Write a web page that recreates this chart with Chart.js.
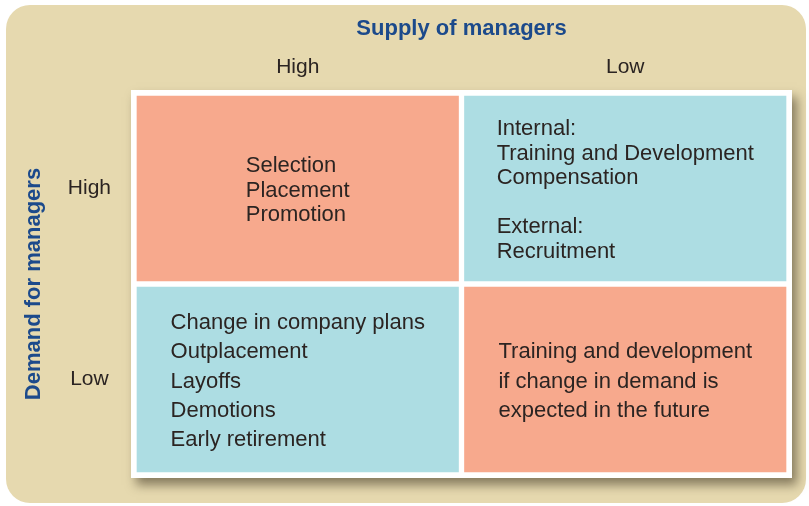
<!DOCTYPE html>
<html>
<head>
<meta charset="utf-8">
<title>Supply and demand of managers</title>
<script src="https://cdn.jsdelivr.net/npm/chart.js@4/dist/chart.umd.min.js"></script>
<style>
    html, body { margin: 0; padding: 0; background: #ffffff; }
    #wrap { width: 809px; height: 506px; position: relative; }
</style>
</head>
<body>
<div id="wrap"><canvas id="matrixChart"></canvas></div>
<script>
// Data
const supplyLevels = ['High', 'Low'];   // columns (top axis)
const demandLevels = ['High', 'Low'];   // rows (left axis)

const highDemandTexts = [
    ['Selection', 'Placement', 'Promotion'],
    ['Internal:', 'Training and Development', 'Compensation', '', 'External:', 'Recruitment']
];
const lowDemandTexts = [
    ['Change in company plans', 'Outplacement', 'Layoffs', 'Demotions', 'Early retirement'],
    ['Training and development', 'if change in demand is', 'expected in the future']
];

// Couleurs
const SALMON = '#F7A98D';
const AQUA = '#ADDDE3';
const BEIGE = '#E6D9AF';
const NAVY = '#1C4A8B';
const INK = '#2B2422';

const nRows = demandLevels.length;
const rowTexts = [highDemandTexts, lowDemandTexts];
const rowColors = [[SALMON, AQUA], [AQUA, SALMON]];
const rowLineHeights = [24.5, 29.3];

// each row is one floating bar dataset spanning its band on the y scale
const datasets = demandLevels.map((level, i) => ({
    label: level + ' demand',
    data: supplyLevels.map(() => [nRows - 1 - i, nRows - i]),
    backgroundColor: rowColors[i],
    borderColor: '#ffffff',
    borderWidth: 3,
    borderSkipped: false,
    grouped: false,
    barPercentage: 1,
    categoryPercentage: 1
}));

// Background card, white frame with shadow
const backdropPlugin = {
    id: 'backdrop',
    beforeDraw(chart) {
        const ctx = chart.ctx;
        const area = chart.chartArea;
        ctx.save();
        ctx.fillStyle = '#ffffff';
        ctx.fillRect(0, 0, chart.width, chart.height);

        ctx.fillStyle = BEIGE;
        ctx.beginPath();
        ctx.roundRect(6, 5, 800, 498, 24);
        ctx.fill();

        ctx.shadowColor = 'rgba(70, 60, 40, 0.6)';
        ctx.shadowBlur = 10;
        ctx.shadowOffsetX = 5;
        ctx.shadowOffsetY = 7;
        ctx.fillStyle = '#ffffff';
        ctx.fillRect(area.left - 3, area.top - 3, area.right - area.left + 6, area.bottom - area.top + 6);
        ctx.restore();
    }
};

// Cell texts, block centered in each cell, lines left aligned
const cellTextPlugin = {
    id: 'cellText',
    afterDatasetsDraw(chart) {
        const ctx = chart.ctx;
        ctx.save();
        ctx.font = '22px "Liberation Sans", Arial, sans-serif';
        ctx.fillStyle = INK;
        ctx.textAlign = 'left';
        ctx.textBaseline = 'middle';
        chart.data.datasets.forEach((ds, i) => {
            const meta = chart.getDatasetMeta(i);
            meta.data.forEach((bar, j) => {
                const props = bar.getProps(['x', 'y', 'base']);
                const lines = rowTexts[i][j];
                const lh = rowLineHeights[i];
                const blockW = Math.max(...lines.map(l => ctx.measureText(l).width));
                const left = props.x - blockW / 2;
                const cy = (props.y + props.base) / 2 + 2;
                const top = cy - (lines.length - 1) * lh / 2;
                lines.forEach((line, k) => {
                    ctx.fillText(line, left, top + k * lh);
                });
            });
        });
        ctx.restore();
    }
};

Chart.defaults.font.family = '"Liberation Sans", Arial, sans-serif';

const ctx = document.getElementById('matrixChart').getContext('2d');
new Chart(ctx, {
    type: 'bar',
    data: {
        labels: supplyLevels,
        datasets: datasets
    },
    options: {
        responsive: true,
        maintainAspectRatio: false,
        animation: false,
        layout: {
            padding: { top: 0, left: 0, right: 20, bottom: 31 }
        },
        plugins: {
            legend: { display: false },
            tooltip: { enabled: false }
        },
        scales: {
            x: {
                type: 'category',
                position: 'top',
                grid: { display: false, drawTicks: false },
                border: { display: false },
                ticks: { color: INK, font: { size: 21 }, padding: 13 },
                title: {
                    display: true,
                    text: 'Supply of managers',
                    color: NAVY,
                    font: { size: 22, weight: 'bold' },
                    padding: { top: 16, bottom: 0 }
                },
                afterFit: scale => { scale.height = 93; }
            },
            y: {
                type: 'linear',
                position: 'left',
                min: 0,
                max: nRows,
                grid: { display: false, drawTicks: false },
                border: { display: false },
                afterBuildTicks: scale => {
                    scale.ticks = demandLevels.map((_, i) => ({ value: nRows - 1 - i + 0.5 }));
                },
                ticks: {
                    color: INK,
                    font: { size: 21 },
                    padding: 23,
                    crossAlign: 'center',
                    callback: value => demandLevels[nRows - 1 - Math.floor(value)]
                },
                title: {
                    display: true,
                    text: 'Demand for managers',
                    color: NAVY,
                    font: { size: 22, weight: 'bold' },
                    padding: { top: 21, bottom: 0 }
                },
                afterFit: scale => {
                    scale.width = 134;
                    // labels sit mid-band, no extra room needed at the ends
                    scale.paddingTop = 0;
                    scale.paddingBottom = 0;
                }
            }
        }
    },
    plugins: [backdropPlugin, cellTextPlugin]
});
</script>
</body>
</html>
